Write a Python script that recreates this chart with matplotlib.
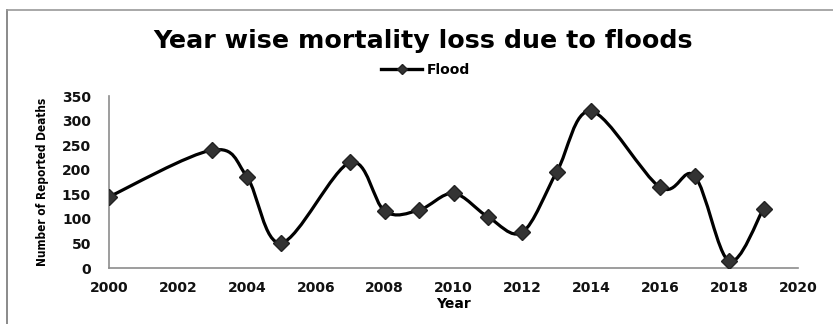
import numpy as np
import matplotlib.pyplot as plt
from matplotlib.path import Path
from matplotlib.patches import PathPatch
from matplotlib.lines import Line2D

# reported flood deaths per year
years = [2000, 2003, 2004, 2005, 2007, 2008, 2009, 2010, 2011, 2012,
         2013, 2014, 2016, 2017, 2018, 2019]
deaths = [145, 240, 186, 51, 215, 116, 118, 152, 104, 73,
          196, 319, 164, 187, 14, 121]
xticks = np.arange(2000, 2021, 2)
yticks = np.arange(0, 351, 50)


def smooth_path(xs, ys):
    # cubic bezier segments through every point (catmull-rom style tangents)
    pts = np.column_stack([xs, ys]).astype(float)
    n = len(pts)
    verts = [pts[0]]
    codes = [Path.MOVETO]
    for i in range(n - 1):
        p0 = pts[max(i - 1, 0)]
        p1 = pts[i]
        p2 = pts[i + 1]
        p3 = pts[min(i + 2, n - 1)]
        c1 = p1 + (p2 - p0) / 6.0
        c2 = p2 - (p3 - p1) / 6.0
        verts += [c1, c2, p2]
        codes += [Path.CURVE4] * 3
    return Path(verts, codes)


fig = plt.figure(figsize=(8.33, 3.24), dpi=100)
ax = fig.add_axes([0.1309, 0.1728, 0.8271, 0.5309])

ax.add_patch(PathPatch(smooth_path(years, deaths), facecolor='none',
                       edgecolor='black', lw=2.3, zorder=2))
ax.plot(years, deaths, ls='none', marker='D', ms=8, color='#333333',
        markeredgecolor='#222222', zorder=3)

ax.set_xlim(2000, 2020)
ax.set_ylim(0, 350)
ax.set_xticks(xticks)
ax.set_yticks(yticks)
ax.tick_params(length=0)
ax.tick_params(axis='x', pad=9)
ax.tick_params(axis='y', pad=13)
for lab in ax.get_xticklabels() + ax.get_yticklabels():
    lab.set_fontfamily('DejaVu Sans')
    lab.set_fontweight('bold')
    lab.set_fontsize(10)
    lab.set_color('#111111')

# only the left and bottom axis lines, in grey
for side in ['top', 'right']:
    ax.spines[side].set_visible(False)
for side in ['left', 'bottom']:
    ax.spines[side].set_color('#8c8c8c')
    ax.spines[side].set_linewidth(1.2)

ax.set_xlabel('Year', fontfamily='DejaVu Sans', fontweight='bold',
              fontsize=10, labelpad=2)
ax.set_ylabel('Number of Reported Deaths', fontfamily='DejaVu Sans',
              fontstretch='condensed', fontweight='bold', fontsize=8.5,
              labelpad=9)

fig.text(0.508, 0.873, 'Year wise mortality loss due to floods',
         ha='center', va='center', fontfamily='DejaVu Sans',
         fontweight='bold', fontsize=18.3)

handle = Line2D([], [], color='black', lw=2.4, marker='D', ms=5,
                markerfacecolor='#333333', markeredgecolor='#222222')
fig.legend([handle], ['Flood'], loc='center', bbox_to_anchor=(0.511, 0.785),
           frameon=False,
           prop={'family': 'DejaVu Sans', 'weight': 'bold', 'size': 10},
           handlelength=2.9, handletextpad=0.35)

# outer frame, only its top and left edges show
fig.add_artist(Line2D([7 / 833, 7 / 833], [0, 1 - 10 / 324],
                      color='#777777', lw=1.2))
fig.add_artist(Line2D([7 / 833, 1], [1 - 10 / 324, 1 - 10 / 324],
                      color='#999999', lw=1.2))

fig.savefig('out.png', dpi=100)
